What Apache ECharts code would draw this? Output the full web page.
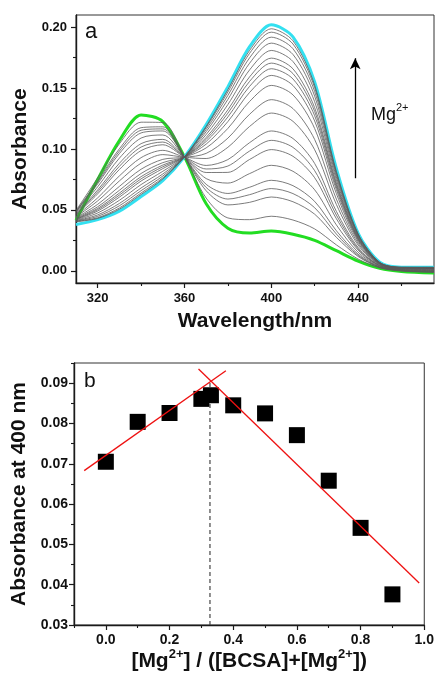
<!DOCTYPE html>
<html>
<head>
<meta charset="utf-8">
<script src="https://cdn.jsdelivr.net/npm/echarts@6/dist/echarts.min.js"></script>
<style>html,body{margin:0;padding:0;background:#fff}#c{width:437px;height:673px}</style>
</head>
<body>
<div id="c"></div>
<script>
// ---------- Panel a: UV-vis titration spectra ----------
const wavelengths = [310,320,330,340,350,360,370,380,390,400,410,420,430,440,450,460,475];
const greenStart = [0.0416,0.075,0.107,0.128,0.1225,0.0935,0.055,0.035,0.031,0.0326,0.030,0.025,0.0165,0.008,0.002,-0.0005,-0.0017];
const cyanEnd    = [0.038,0.042,0.049,0.061,0.074,0.0935,0.120,0.151,0.184,0.202,0.192,0.155,0.084,0.031,0.007,0.003,0.003];
const g01 = [0.0495,0.0763,0.1043,0.1220,0.1217,0.0935,0.0597,0.0434,0.0420,0.0448,0.0417,0.0344,0.0213,0.0097,0.0024,-0.0002,-0.0014];
const g02 = [0.0488,0.0738,0.1002,0.1175,0.1182,0.0935,0.0657,0.0541,0.0562,0.0606,0.0567,0.0465,0.0275,0.0118,0.0028,0.0001,-0.0010];
const g03 = [0.0485,0.0726,0.0983,0.1154,0.1165,0.0935,0.0684,0.0589,0.0625,0.0675,0.0634,0.0518,0.0302,0.0127,0.0030,0.0002,-0.0007];
const g04 = [0.0482,0.0714,0.0963,0.1132,0.1148,0.0935,0.0710,0.0635,0.0686,0.0743,0.0699,0.0570,0.0329,0.0137,0.0032,0.0004,-0.0005];
const g05 = [0.0475,0.0690,0.0925,0.1090,0.1115,0.0935,0.0757,0.0720,0.0798,0.0866,0.0817,0.0665,0.0377,0.0153,0.0036,0.0006,-0.0002];
const g06 = [0.0468,0.0664,0.0883,0.1044,0.1079,0.0935,0.0807,0.0808,0.0914,0.0995,0.0940,0.0764,0.0428,0.0171,0.0040,0.0009,0.0002];
const g07 = [0.0463,0.0648,0.0858,0.1016,0.1057,0.0935,0.0836,0.0860,0.0983,0.1071,0.1013,0.0822,0.0458,0.0181,0.0042,0.0010,0.0004];
const g08 = [0.0459,0.0632,0.0832,0.0987,0.1035,0.0935,0.0865,0.0913,0.1052,0.1148,0.1086,0.0881,0.0488,0.0192,0.0044,0.0012,0.0006];
const g09 = [0.0450,0.0599,0.0779,0.0929,0.0989,0.0935,0.0922,0.1014,0.1185,0.1295,0.1227,0.0994,0.0545,0.0212,0.0049,0.0015,0.0010];
const g10 = [0.0443,0.0574,0.0738,0.0884,0.0954,0.0935,0.0964,0.1089,0.1285,0.1405,0.1332,0.1078,0.0589,0.0227,0.0052,0.0017,0.0013];
const g11 = [0.0435,0.0546,0.0693,0.0834,0.0915,0.0935,0.1009,0.1169,0.1390,0.1522,0.1444,0.1168,0.0634,0.0242,0.0055,0.0020,0.0016];
const g12 = [0.0430,0.0526,0.0661,0.0799,0.0888,0.0935,0.1040,0.1225,0.1464,0.1604,0.1521,0.1230,0.0666,0.0253,0.0058,0.0021,0.0018];
const g13 = [0.0426,0.0512,0.0638,0.0773,0.0868,0.0935,0.1062,0.1263,0.1514,0.1659,0.1575,0.1273,0.0688,0.0261,0.0059,0.0023,0.0020];
const g14 = [0.0423,0.0502,0.0622,0.0755,0.0854,0.0935,0.1079,0.1294,0.1555,0.1705,0.1619,0.1308,0.0706,0.0267,0.0061,0.0023,0.0021];
const g15 = [0.0420,0.0491,0.0605,0.0737,0.0839,0.0935,0.1095,0.1322,0.1592,0.1746,0.1658,0.1339,0.0722,0.0273,0.0062,0.0024,0.0022];
const g16 = [0.0415,0.0475,0.0579,0.0708,0.0817,0.0935,0.1119,0.1365,0.1649,0.1809,0.1718,0.1388,0.0747,0.0281,0.0064,0.0026,0.0024];
const g17 = [0.0411,0.0459,0.0553,0.0680,0.0795,0.0935,0.1142,0.1407,0.1704,0.1869,0.1776,0.1434,0.0771,0.0290,0.0066,0.0027,0.0026];
const g18 = [0.0408,0.0447,0.0534,0.0658,0.0778,0.0935,0.1161,0.1440,0.1748,0.1918,0.1823,0.1472,0.0790,0.0296,0.0067,0.0028,0.0027];
const g19 = [0.0405,0.0436,0.0516,0.0639,0.0763,0.0935,0.1177,0.1468,0.1785,0.1959,0.1862,0.1503,0.0806,0.0302,0.0068,0.0029,0.0028];
const g20 = [0.0403,0.0430,0.0506,0.0627,0.0754,0.0935,0.1187,0.1487,0.1809,0.1987,0.1888,0.1524,0.0817,0.0305,0.0069,0.0029,0.0029];
const grayCurves = [g01,g02,g03,g04,g05,g06,g07,g08,g09,g10,g11,g12,g13,g14,g15,g16,g17,g18,g19,g20];
const topXMajor = [320,360,400,440];
const topXMinor = [340,380,420,460];
const topYMajor = [0,0.05,0.10,0.15,0.20];
const topYMinor = [0.025,0.075,0.125,0.175];

// ---------- Panel b: Job plot ----------
const moleFraction = [0.0,0.1,0.2,0.3,0.33,0.4,0.5,0.6,0.7,0.8,0.9];
const abs400 = [0.0705,0.0804,0.0826,0.0861,0.0870,0.0845,0.0825,0.0771,0.0658,0.0541,0.0376];
const fitRiseX = [-0.068,0.377];
const fitRiseY = [0.0683,0.0931];
const fitFallX = [0.291,0.984];
const fitFallY = [0.0935,0.0404];
const dropX = [0.327,0.327];
const dropY = [0.03,0.0905];
const botXMajor = [0.0,0.2,0.4,0.6,0.8,1.0];
const botXMinor = [-0.1,0.1,0.3,0.5,0.7,0.9];
const botYMajor = [0.03,0.04,0.05,0.06,0.07,0.08,0.09];
const botYMinor = [0.035,0.045,0.055,0.065,0.075,0.085,0.095];

const FONT = 'Liberation Sans, Arial, sans-serif';
const AX = '#1a1a1a';
const zip = (xs, ys) => xs.map((x, i) => [x, ys[i]]);

function mainAxis(gridIndex, min, max, major, fmt, fontSize, margin, extra) {
  return Object.assign({
    type: 'value', gridIndex, min, max,
    axisLine: { show: true, onZero: false, lineStyle: { color: AX, width: 1.4 } },
    axisTick: { show: true, inside: false, length: 5, customValues: major, lineStyle: { color: AX, width: 1.2 } },
    axisLabel: { show: true, customValues: major, formatter: fmt, color: '#111', fontFamily: FONT, fontWeight: 'bold', fontSize, margin },
    splitLine: { show: false }
  }, extra || {});
}
function minorAxis(gridIndex, min, max, minor, extra) {
  return Object.assign({
    type: 'value', gridIndex, min, max,
    axisLine: { show: false, onZero: false },
    axisTick: { show: true, inside: false, length: 3, customValues: minor, lineStyle: { color: AX, width: 1.1 } },
    axisLabel: { show: false },
    splitLine: { show: false }
  }, extra || {});
}

const nameStyle = { fontFamily: FONT, fontWeight: 'bold', fontSize: 21, color: '#111' };

const series = [];
series.push({
  type: 'line', xAxisIndex: 0, yAxisIndex: 0, data: zip(wavelengths, greenStart),
  showSymbol: false, smooth: 0.3, lineStyle: { color: '#22dd22', width: 3 }, z: 2, silent: true
});
series.push({
  type: 'line', xAxisIndex: 0, yAxisIndex: 0, data: zip(wavelengths, cyanEnd),
  showSymbol: false, smooth: 0.3, lineStyle: { color: '#33e0f0', width: 3 }, z: 2, silent: true,
  markLine: {
    silent: true, symbol: ['none', 'arrow'], symbolSize: [8, 11],
    label: { show: false },
    lineStyle: { color: '#000', width: 1.3, type: 'solid' },
    data: [[{ coord: [438.7, 0.076] }, { coord: [438.7, 0.1745] }]]
  }
});
grayCurves.forEach((g) => {
  series.push({
    type: 'line', xAxisIndex: 0, yAxisIndex: 0, data: zip(wavelengths, g),
    showSymbol: false, smooth: 0.3, lineStyle: { color: '#5a5a5a', width: 0.8 }, z: 3, silent: true
  });
});
series.push({
  type: 'line', xAxisIndex: 2, yAxisIndex: 2, data: zip(dropX, dropY),
  showSymbol: false, lineStyle: { color: '#444', width: 1.2, type: [4, 3] }, z: 2, silent: true
});
series.push({
  type: 'line', xAxisIndex: 2, yAxisIndex: 2, data: zip(fitRiseX, fitRiseY),
  showSymbol: false, lineStyle: { color: '#ee1111', width: 1.3 }, z: 4, silent: true
});
series.push({
  type: 'line', xAxisIndex: 2, yAxisIndex: 2, data: zip(fitFallX, fitFallY),
  showSymbol: false, lineStyle: { color: '#ee1111', width: 1.3 }, z: 4, silent: true
});
series.push({
  type: 'scatter', xAxisIndex: 2, yAxisIndex: 2, data: zip(moleFraction, abs400),
  symbol: 'rect', symbolSize: 16, itemStyle: { color: '#000', opacity: 1 }, z: 3, silent: true
});

const option = {
  animation: false,
  backgroundColor: '#fff',
  grid: [
    { left: 76, right: 3, top: 15, bottom: 390, show: true, borderColor: '#333', borderWidth: 1, backgroundColor: 'transparent' },
    { left: 74, right: 10, top: 363, bottom: 48, show: true, borderColor: '#333', borderWidth: 1, backgroundColor: 'transparent' }
  ],
  xAxis: [
    mainAxis(0, 310, 475, topXMajor, v => String(v), 13, 9, {
      name: 'Wavelength/nm', nameLocation: 'middle', nameGap: 28, nameTextStyle: nameStyle, position: 'bottom'
    }),
    minorAxis(0, 310, 475, topXMinor, { position: 'bottom' }),
    mainAxis(1, -0.1, 1.0, botXMajor, v => v.toFixed(1), 14, 8, {
      position: 'bottom',
      name: '{n|[Mg}{s|2+}{n|] / ([BCSA]+[Mg}{s|2+}{n|])}', nameLocation: 'middle', nameGap: 23,
      nameTextStyle: {
        rich: {
          n: { fontFamily: FONT, fontWeight: 'bold', fontSize: 21, color: '#111', lineHeight: 24, verticalAlign: 'bottom' },
          s: { fontFamily: FONT, fontWeight: 'bold', fontSize: 13, color: '#111', lineHeight: 14, verticalAlign: 'top' }
        }
      }
    }),
    minorAxis(1, -0.1, 1.0, botXMinor, { position: 'bottom' })
  ],
  yAxis: [
    mainAxis(0, -0.01, 0.21, topYMajor, v => v.toFixed(2), 13, 9, {
      position: 'left', name: 'Absorbance', nameLocation: 'middle', nameGap: 45, nameTextStyle: nameStyle
    }),
    minorAxis(0, -0.01, 0.21, topYMinor, { position: 'left' }),
    mainAxis(1, 0.03, 0.095, botYMajor, v => v.toFixed(2), 14, 6, {
      position: 'left', name: 'Absorbance at 400 nm', nameLocation: 'middle', nameGap: 43, nameTextStyle: nameStyle
    }),
    minorAxis(1, 0.03, 0.095, botYMinor, { position: 'left' })
  ],
  graphic: [
    { type: 'text', left: 85, top: 21, style: { text: 'a', font: '22px ' + FONT, fill: '#111' } },
    { type: 'text', left: 84, top: 371, style: { text: 'b', font: '21px ' + FONT, fill: '#111' } },
    { type: 'text', left: 371, top: 102, style: {
        text: '{m|Mg}{s|2+}',
        rich: {
          m: { fontFamily: FONT, fontSize: 18, fill: '#111', lineHeight: 22, verticalAlign: 'bottom' },
          s: { fontFamily: FONT, fontSize: 11, fill: '#111', lineHeight: 12, verticalAlign: 'top' }
        }
    } }
  ],
  series
};

const chart = echarts.init(document.getElementById('c'), null, { renderer: 'canvas' });
chart.setOption(option);
</script>
</body>
</html>
